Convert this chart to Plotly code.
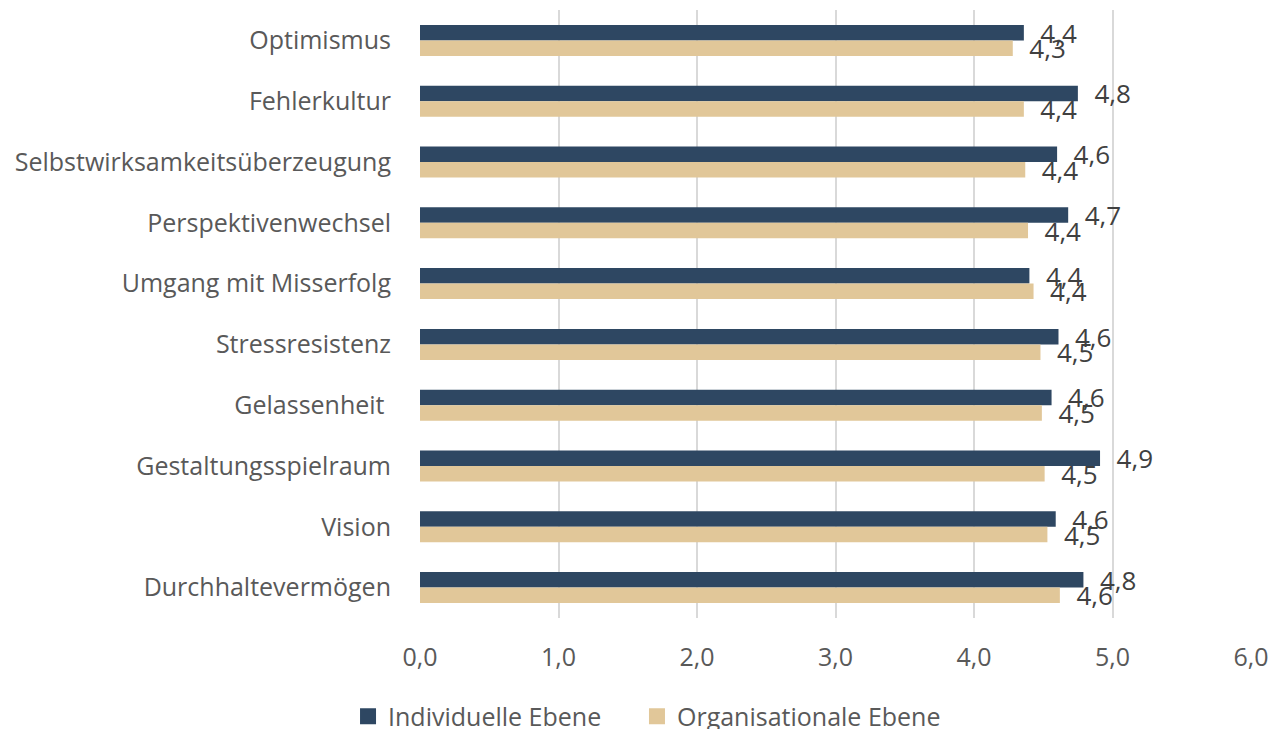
import plotly.graph_objects as go

categories = ["Optimismus", "Fehlerkultur", "Selbstwirksamkeitsüberzeugung", "Perspektivenwechsel",
              "Umgang mit Misserfolg", "Stressresistenz", "Gelassenheit ", "Gestaltungsspielraum",
              "Vision", "Durchhaltevermögen"]
individuelle = [4.36, 4.75, 4.60, 4.68, 4.40, 4.61, 4.56, 4.91, 4.59, 4.79]
organisationale = [4.28, 4.36, 4.37, 4.39, 4.43, 4.48, 4.49, 4.51, 4.53, 4.62]
series_names = ["Individuelle Ebene", "Organisationale Ebene"]
x_ticks = [0, 1, 2, 3, 4, 5, 6]

DARK = "#2E4762"
BEIGE = "#E1C799"
FONT = "Open Sans"
LABEL_FONT = dict(family=FONT, size=26, color="#404040")

fig = go.Figure()
for vals, name, col in [(individuelle, series_names[0], DARK), (organisationale, series_names[1], BEIGE)]:
    fig.add_trace(go.Bar(
        y=categories, x=vals, orientation="h", name=name, showlegend=False,
        marker=dict(color=col, line=dict(width=0)),
        texttemplate="\u00a0\u00a0%{x:.1f}", textposition="outside", constraintext="none", cliponaxis=False,
        textfont=LABEL_FONT, legendgroup=name,
    ))
# legend entries with larger square swatches, one legend box per series
for name, col, lg in [(series_names[0], DARK, "legend"), (series_names[1], BEIGE, "legend2")]:
    fig.add_trace(go.Scatter(
        x=[None], y=[None], mode="markers", name=name, legendgroup=name, legend=lg,
        marker=dict(symbol="square", size=17, color=col), hoverinfo="skip",
    ))

legend_common = dict(orientation="h", xref="container", xanchor="left",
                     y=-0.162, yanchor="middle",
                     font=dict(family=FONT, size=25, color="#595959"),
                     itemwidth=30, bgcolor="rgba(0,0,0,0)")

fig.update_layout(
    width=1274, height=721,
    barmode="group", bargap=0.49, bargroupgap=0,
    separators=",.",
    paper_bgcolor="white", plot_bgcolor="white",
    margin=dict(l=412, r=31, t=2, b=111, autoexpand=False),
    font=dict(family=FONT, size=21, color="#595959"),
    showlegend=True,
    legend=dict(x=0.2669, **legend_common),
    legend2=dict(x=0.4937, **legend_common),
    xaxis=dict(range=[0, 6], tickvals=x_ticks, tickformat=".1f",
               showgrid=True, gridcolor="#D9D9D9", gridwidth=1.5,
               zeroline=False, showline=False, ticks="", ticklabelstandoff=22,
               tickfont=dict(family=FONT, size=25, color="#595959")),
    yaxis=dict(autorange="reversed", showgrid=False, zeroline=False, showline=False,
               ticks="", ticklabelstandoff=28,
               tickfont=dict(family=FONT, size=25, color="#595959")),
)

fig.write_html("out.html")
